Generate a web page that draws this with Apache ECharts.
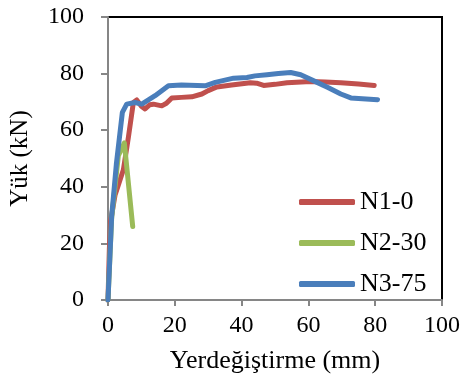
<!DOCTYPE html>
<html>
<head>
    <meta charset="utf-8">
    <title>Yük - Yerdeğiştirme</title>
    <script src="https://cdn.jsdelivr.net/npm/echarts@6/dist/echarts.min.js"></script>
    <style>
        html, body { margin: 0; padding: 0; background: #fff; }
        #chart { width: 465px; height: 379px; }
    </style>
</head>
<body>
    <div id="chart"></div>
    <script>
        // veri: [yerdeğiştirme (mm), yük (kN)]
        var seriesNames = ['N1-0', 'N2-30', 'N3-75'];
        var xTicks = [0, 20, 40, 60, 80, 100];
        var yTicks = [0, 20, 40, 60, 80, 100];

        var n1Data = [
            [0, 0], [0.4, 18], [0.8, 28], [2.1, 37], [4.6, 46], [6.1, 57.5], [7.6, 69.8],
            [8.6, 70.7], [10, 68.5], [11.1, 67.5], [12.5, 69], [13.6, 69.2], [16.1, 68.6],
            [17.5, 69.5], [19.1, 71.4], [22, 71.6], [25.1, 71.8], [28.1, 72.8], [30, 74],
            [32.6, 75.3], [37, 76], [42.6, 76.8], [44.5, 76.6], [46.6, 75.8], [50, 76.2],
            [53.6, 76.8], [60.7, 77.2], [65, 77], [69.7, 76.8], [75, 76.3], [79.7, 75.8]
        ];
        var n2Data = [
            [0, 0], [1.1, 29], [3.1, 51], [4.9, 55.5], [7.4, 26]
        ];
        var n3Data = [
            [0, 0], [1.1, 29.6], [2.5, 48], [4.3, 66.3], [5.6, 69.2], [8.1, 69.8],
            [10.1, 69.2], [14.1, 72.2], [18.1, 75.7], [22, 76], [29.1, 75.7], [32.1, 76.9],
            [37.6, 78.4], [41.6, 78.6], [44, 79.2], [47.6, 79.6], [51, 80], [54.7, 80.4],
            [57.7, 79.6], [62.6, 76.9], [66, 75], [69.7, 72.8], [72.7, 71.4], [80.7, 70.8]
        ];

        var colors = ['#c0504d', '#9bbb59', '#4a7ebb'];
        var font = "'Liberation Serif', 'Times New Roman', serif";

        var myChart = echarts.init(document.getElementById('chart'));

        function lineSeries(name, data, color) {
            return {
                name: name,
                type: 'line',
                data: data,
                showSymbol: false,
                symbol: 'none',
                smooth: false,
                lineStyle: { color: color, width: 5, cap: 'round', join: 'round' },
                itemStyle: { color: color }
            };
        }

        var option = {
            backgroundColor: '#fff',
            animation: false,
            grid: {
                left: 108, right: 23, top: 17, bottom: 78,
                show: true,
                borderColor: '#000',
                borderWidth: 2
            },
            legend: {
                orient: 'vertical',
                left: 294,
                top: 184,
                itemWidth: 56,
                itemHeight: 6,
                itemGap: 15,
                itemTextGap: 4,
                icon: 'roundRect',
                textStyle: { fontFamily: font, fontSize: 26, color: '#000', lineHeight: 26 },
                data: seriesNames
            },
            xAxis: {
                type: 'value',
                min: xTicks[0],
                max: xTicks[xTicks.length - 1],
                interval: 20,
                name: 'Yerdeğiştirme (mm)',
                nameLocation: 'middle',
                nameGap: 48,
                nameTextStyle: { fontFamily: font, fontSize: 26, color: '#000' },
                axisLine: { show: true, lineStyle: { color: '#868686', width: 2 } },
                axisTick: { show: true, length: 6, lineStyle: { color: '#868686', width: 2 } },
                axisLabel: { fontFamily: font, fontSize: 24, color: '#000', margin: 14 },
                splitLine: { show: false }
            },
            yAxis: {
                type: 'value',
                min: yTicks[0],
                max: yTicks[yTicks.length - 1],
                interval: 20,
                name: 'Yük (kN)',
                nameLocation: 'middle',
                nameGap: 75,
                nameTextStyle: { fontFamily: font, fontSize: 25, color: '#000' },
                axisLine: { show: true, lineStyle: { color: '#868686', width: 2 } },
                axisTick: { show: true, length: 7, lineStyle: { color: '#868686', width: 2 } },
                axisLabel: { fontFamily: font, fontSize: 24, color: '#000', margin: 24 },
                splitLine: { show: false }
            },
            series: [
                lineSeries(seriesNames[0], n1Data, colors[0]),
                lineSeries(seriesNames[1], n2Data, colors[1]),
                lineSeries(seriesNames[2], n3Data, colors[2])
            ]
        };

        myChart.setOption(option);
    </script>
</body>
</html>
